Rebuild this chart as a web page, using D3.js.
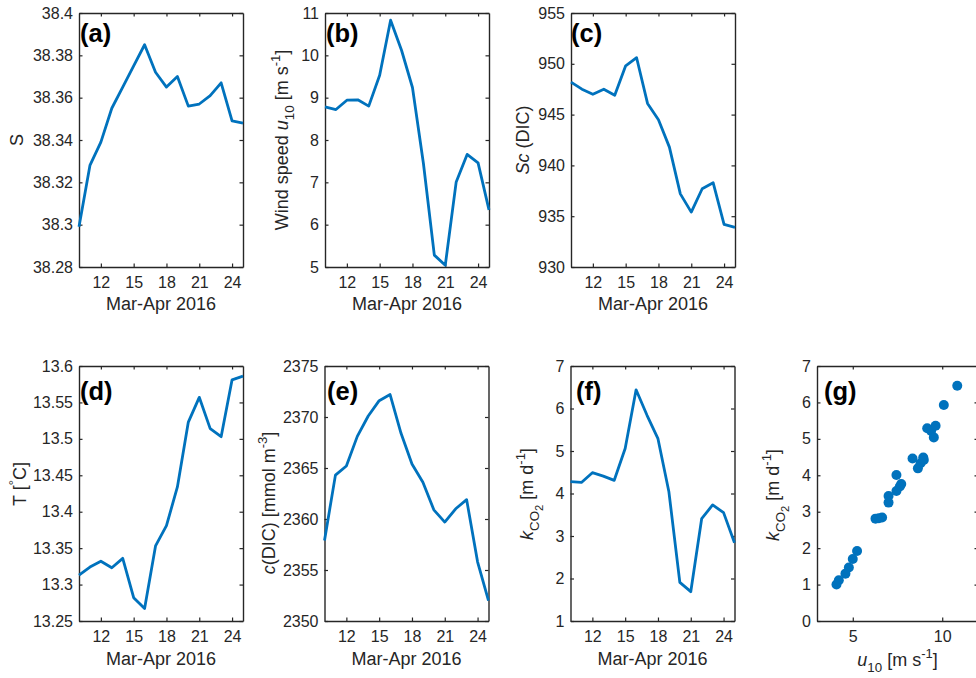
<!DOCTYPE html>
<html><head><meta charset="utf-8">
<script src="https://cdn.jsdelivr.net/npm/d3@7"></script>
<style>
body{margin:0;background:#fff}
svg{display:block}
text{font-family:"Liberation Sans",Arial,Helvetica,sans-serif}
</style>
</head><body>
<svg id="chart" width="976" height="678"></svg>
<script>
// ---------------- data ----------------
const days = [10,11,12,13,14,15,16,17,18,19,20,21,22,23,24,25];
const salinity = [38.299,38.328,38.339,38.355,38.365,38.375,38.385,38.372,38.365,38.370,38.356,38.357,38.361,38.367,38.349,38.348];
const windSpeed = [8.78,8.72,8.94,8.95,8.80,9.53,10.83,10.12,9.24,7.45,5.28,5.04,7.01,7.66,7.46,6.35];
const schmidtDIC = [948.2,947.5,947.0,947.5,946.9,949.8,950.6,946.1,944.5,941.8,937.2,935.4,937.7,938.3,934.2,933.9];
const temperature = [13.313,13.324,13.332,13.323,13.336,13.282,13.267,13.353,13.381,13.434,13.523,13.557,13.514,13.503,13.581,13.586];
const dicConc = [2357.9,2364.3,2365.2,2368.1,2370.1,2371.6,2372.2,2368.4,2365.4,2363.6,2360.9,2359.7,2361.0,2361.9,2355.8,2352.0];
const kCO2 = [4.28,4.26,4.49,4.41,4.31,5.06,6.44,5.84,5.29,4.04,1.91,1.69,3.41,3.73,3.55,2.84];
const scatterU10 = [10.84,10.09,9.16,9.38,9.63,9.53,8.34,8.64,8.79,8.94,8.97,7.44,7.71,7.63,7.44,7.00,7.00,6.27,6.46,6.64,5.24,5.00,4.78,4.59,4.22,4.09];
const scatterK   = [6.46,5.93,5.29,5.22,5.36,5.04,4.46,4.19,4.33,4.49,4.42,4.01,3.76,3.69,3.57,3.43,3.25,2.81,2.82,2.84,1.92,1.70,1.47,1.30,1.12,1.00];

const dayTicks = [12,15,18,21,24];
const salTicks = [38.28,38.30,38.32,38.34,38.36,38.38,38.40];
const windTicks = [5,6,7,8,9,10,11];
const scTicks = [930,935,940,945,950,955];
const tempTicks = [13.25,13.30,13.35,13.40,13.45,13.50,13.55,13.60];
const dicTicks = [2350,2355,2360,2365,2370,2375];
const kTicks = [1,2,3,4,5,6,7];
const kTicksG = [0,1,2,3,4,5,6,7];
const uTicksG = [5,10];
const dateLabel = "Mar-Apr 2016";

// ---------------- style ----------------
const INK = "#262626", BLUE = "#0072BD";
const TICK_FS = 16, LABEL_FS = 18, LETTER_FS = 25.5;
const svg = d3.select("#chart");
svg.append("rect").attr("width",976).attr("height",678).attr("fill","#fff");
const fmt = v => String(+v.toFixed(2));

function rich(sel, parts, fs){
  let shift = 0;
  parts.forEach(p => {
    let target = 0, size = fs;
    if (p.sub) { target = 0.32*fs; size = 0.74*fs; }
    if (p.subsub) { target = 0.58*fs; size = 0.62*fs; }
    if (p.sup) { target = -0.42*fs; size = 0.72*fs; }
    const ts = sel.append("tspan").text(p.t).attr("font-size", size);
    if (target !== shift) { ts.attr("dy", target - shift); shift = target; }
    if (p.i) ts.attr("font-style","italic");
  });
}

function panel(c){
  const g = svg.append("g");
  const x = d3.scaleLinear().domain(c.xDomain).range([c.left, c.right]);
  const y = d3.scaleLinear().domain(c.yDomain).range([c.bottom, c.top]);
  const tl = 3.5;
  const style = a => {
    a.selectAll("path.domain").attr("stroke", INK).attr("stroke-width", 1.4);
    a.selectAll(".tick line").attr("stroke", INK).attr("stroke-width", 1.2);
    a.selectAll(".tick text").attr("fill", INK).attr("font-size", TICK_FS)
      .attr("font-family", '"Liberation Sans",Arial,Helvetica,sans-serif');
  };
  g.append("g").attr("transform",`translate(0,${c.bottom})`)
    .call(d3.axisBottom(x).tickValues(c.xTicks).tickFormat(fmt).tickSize(-tl).tickSizeOuter(0).tickPadding(9.5))
    .call(style);
  g.append("g").attr("transform",`translate(0,${c.top})`)
    .call(d3.axisTop(x).tickValues(c.xTicks).tickFormat("").tickSize(-tl).tickSizeOuter(0))
    .call(style);
  g.append("g").attr("transform",`translate(${c.left},0)`)
    .call(d3.axisLeft(y).tickValues(c.yTicks).tickFormat(fmt).tickSize(-tl).tickSizeOuter(0).tickPadding(6))
    .call(style);
  g.append("g").attr("transform",`translate(${c.right},0)`)
    .call(d3.axisRight(y).tickValues(c.yTicks).tickFormat("").tickSize(-tl).tickSizeOuter(0))
    .call(style);

  if (c.ys) {
    const line = d3.line().x((d,i)=>x(c.xs[i])).y(d=>y(d));
    g.append("path").datum(c.ys).attr("d", line).attr("fill","none")
      .attr("stroke", BLUE).attr("stroke-width", 2.8).attr("stroke-linejoin","round");
  }
  if (c.pts) {
    g.append("g").selectAll("circle").data(c.pts).join("circle")
      .attr("cx", d=>x(d[0])).attr("cy", d=>y(d[1])).attr("r", 5).attr("fill", BLUE);
  }
  // y label
  const yl = g.append("text").attr("text-anchor","middle").attr("fill", INK)
    .attr("font-size", LABEL_FS)
    .attr("transform",`translate(${c.ylx},${c.yly}) rotate(-90)`);
  rich(yl, c.ylabel, LABEL_FS);
  // x label
  const xl = g.append("text").attr("text-anchor","middle").attr("fill", INK)
    .attr("font-size", LABEL_FS)
    .attr("x",(c.left+c.right)/2).attr("y", c.xly);
  rich(xl, c.xlabel, LABEL_FS);
  // panel letter
  g.append("text").attr("x", c.lx).attr("y", c.ly).attr("font-size", LETTER_FS)
    .attr("font-weight","bold").attr("fill","#000").text(c.letter);
}

const dateParts = [{t: dateLabel}];
const kParts = [{t:"k", i:true},{t:"CO", sub:true},{t:"2", subsub:true},{t:" [m d"},{t:"-1", sup:true},{t:"]"}];

const TOP1 = 13, BOT1 = 267, TOP2 = 366, BOT2 = 621;
panel({letter:"(a)", left:79, right:243, top:TOP1, bottom:BOT1, xDomain:[10,25], yDomain:[38.28,38.4],
  xTicks:dayTicks, yTicks:salTicks, xs:days, ys:salinity,
  ylabel:[{t:"S"}], ylx:23, yly:140, xlabel:dateParts, xly:310, lx:80, ly:42});
panel({letter:"(b)", left:325, right:489, top:TOP1, bottom:BOT1, xDomain:[10,25], yDomain:[5,11],
  xTicks:dayTicks, yTicks:windTicks, xs:days, ys:windSpeed,
  ylabel:[{t:"Wind speed "},{t:"u",i:true},{t:"10",sub:true},{t:" [m s"},{t:"-1",sup:true},{t:"]"}],
  ylx:288, yly:140, xlabel:dateParts, xly:310, lx:326, ly:42});
panel({letter:"(c)", left:571, right:735, top:TOP1, bottom:BOT1, xDomain:[10,25], yDomain:[930,955],
  xTicks:dayTicks, yTicks:scTicks, xs:days, ys:schmidtDIC,
  ylabel:[{t:"Sc",i:true},{t:" (DIC)"}], ylx:529, yly:140, xlabel:dateParts, xly:310, lx:571, ly:42});
panel({letter:"(d)", left:79, right:243, top:TOP2, bottom:BOT2, xDomain:[10,25], yDomain:[13.25,13.6],
  xTicks:dayTicks, yTicks:tempTicks, xs:days, ys:temperature,
  ylabel:[{t:"T ["},{t:"°",sup:true},{t:"C]"}], ylx:26, yly:484, xlabel:dateParts, xly:665, lx:80, ly:400});
panel({letter:"(e)", left:324.5, right:488.5, top:TOP2, bottom:BOT2, xDomain:[10,25], yDomain:[2350,2375],
  xTicks:dayTicks, yTicks:dicTicks, xs:days, ys:dicConc,
  ylabel:[{t:"c",i:true},{t:"(DIC) [mmol m"},{t:"-3",sup:true},{t:"]"}], ylx:275, yly:503, xlabel:dateParts, xly:665, lx:327, ly:400});
panel({letter:"(f)", left:570.5, right:734.5, top:TOP2, bottom:BOT2, xDomain:[10,25], yDomain:[1,7],
  xTicks:dayTicks, yTicks:kTicks, xs:days, ys:kCO2,
  ylabel:kParts, ylx:533, yly:494, xlabel:dateParts, xly:665, lx:576, ly:400});
panel({letter:"(g)", left:817, right:978, top:TOP2, bottom:BOT2, xDomain:[3,12], yDomain:[0,7],
  xTicks:uTicksG, yTicks:kTicksG, pts:scatterU10.map((u,i)=>[u, scatterK[i]]),
  ylabel:kParts, ylx:779, yly:495,
  xlabel:[{t:"u",i:true},{t:"10",sub:true},{t:" [m s"},{t:"-1",sup:true},{t:"]"}], xly:666, lx:824, ly:400});
</script>
</body></html>
